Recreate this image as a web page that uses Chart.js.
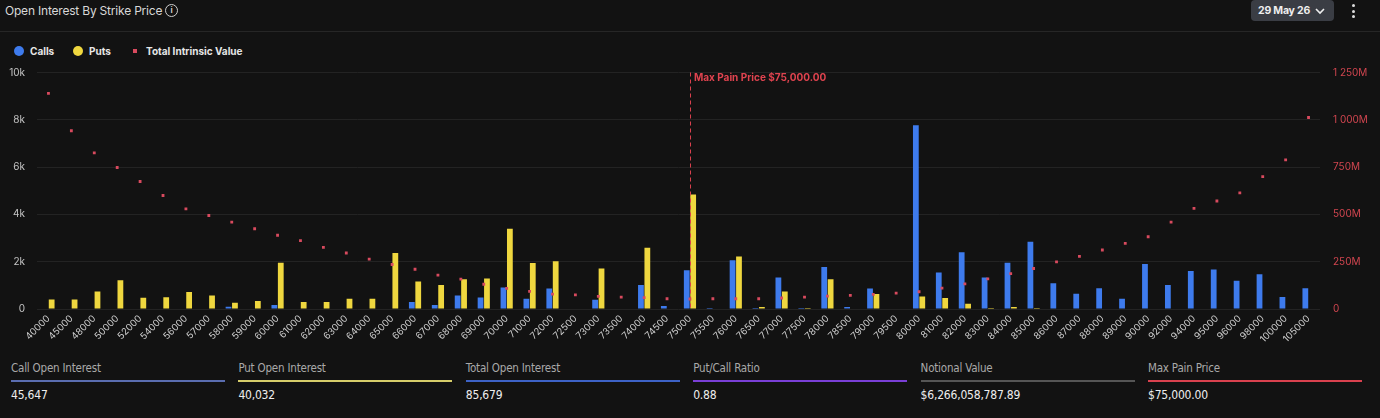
<!DOCTYPE html>
<html>
<head>
<meta charset="utf-8">
<script src="https://cdn.jsdelivr.net/npm/chart.js@4.4.1/dist/chart.umd.min.js"></script>
<style>
  html, body { margin:0; padding:0; background:#121212; width:1380px; height:418px; overflow:hidden; font-family: Inter, "Noto Sans", sans-serif; }
  #wrap { position:relative; width:1380px; height:418px; }
  .abs { position:absolute; }
  #title { left:5px; top:3px; font-size:12px; color:#d8d8d8; letter-spacing:-0.2px; }
  #info { left:165px; top:4px; width:11px; height:11px; border:1.3px solid #cfcfcf; border-radius:50%; font-size:8px; color:#cfcfcf; text-align:center; line-height:11px; font-weight:700; }
  #sep { left:0; top:31px; width:1380px; height:1px; background:#262626; }
  #date { left:1251px; top:0px; width:83px; height:21px; background:#3a3d44; border-radius:4px; color:#eee; font-size:10.5px; font-weight:700; line-height:21px; padding-left:7px; box-sizing:border-box; letter-spacing:-0.2px; }
  #date svg { position:absolute; right:9px; top:8px; }
  #kebab { left:1352px; top:4px; }
  .kebab-dot { width:3px; height:3px; background:#ddd; border-radius:50%; margin-bottom:2.5px; }
  .leg { top:44px; font-size:10px; font-weight:700; color:#e6e6e6; line-height:14px; }
  .dot { position:absolute; width:10px; height:10px; border-radius:50%; top:46px; }
  #chartbox { left:0; top:49px; width:1380px; height:301px; }
  .stat { top:361px; width:214px; }
  .stat .lab { font-family:"DejaVu Sans Condensed","DejaVu Sans",sans-serif; font-stretch:condensed; font-size:11.5px; color:#a9a9a9; height:15px; letter-spacing:-0.2px; }
  .stat .bar { height:2px; margin-top:4px; }
  .stat .val { font-family:"DejaVu Sans Condensed","DejaVu Sans",sans-serif; font-stretch:condensed; font-size:12px; color:#eeeeee; margin-top:6px; letter-spacing:-0.2px; }
</style>
</head>
<body>
<div id="wrap">
  <div id="title" class="abs">Open Interest By Strike Price</div>
  <div id="info" class="abs">i</div>
  <div id="sep" class="abs"></div>
  <div id="date" class="abs">29 May 26
    <svg width="10" height="7" viewBox="0 0 10 7"><path d="M1 1 L5 5 L9 1" stroke="#eee" stroke-width="1.6" fill="none"/></svg>
  </div>
  <div id="kebab" class="abs"><div class="kebab-dot"></div><div class="kebab-dot"></div><div class="kebab-dot"></div></div>

  <div class="dot" style="left:14px;background:#3e7bed;"></div>
  <div class="leg abs" style="left:30px;">Calls</div>
  <div class="dot" style="left:73px;background:#efd73f;"></div>
  <div class="leg abs" style="left:89px;">Puts</div>
  <div class="abs" style="left:133px;top:49px;width:4px;height:4px;background:#d84a5e;"></div>
  <div class="leg abs" style="left:146px;">Total Intrinsic Value</div>

  <div id="chartbox" class="abs"><canvas id="c"></canvas></div>

  <div id="stats"></div>
</div>
<script>
const strikes = ["40000","45000","48000","50000","52000","54000","56000","57000","58000","59000","60000","61000","62000","63000","64000","65000","66000","67000","68000","69000","70000","71000","72000","72500","73000","73500","74000","74500","75000","75500","76000","76500","77000","77500","78000","78500","79000","79500","80000","81000","82000","83000","84000","85000","86000","87000","88000","89000","90000","92000","94000","95000","96000","98000","100000","105000"];

const calls = [0,0,0,0,0,0,0,0,100,0,170,0,0,0,0,0,295,170,575,490,910,435,870,0,390,0,1010,125,1640,40,2060,40,1330,40,1780,85,870,0,7770,1540,2395,1330,1960,2845,1090,645,880,435,1905,1020,1610,1665,1190,1470,505,880];

const puts = [400,400,740,1220,475,500,715,575,265,335,1960,295,295,435,435,2365,1160,1010,1260,1290,3390,1950,2020,0,1710,0,2590,0,4845,0,2215,85,740,40,1260,0,630,0,530,460,225,40,85,40,0,0,0,0,0,0,0,0,0,0,0,0];

// Total intrinsic value, in millions of USD
const intrinsicM = [1140,942,825,748,674,600,529,494,459,424,390,361,326,296,264,235,210,179,158,131,109,93,79,75,67,63,60,54,53,54,54,54,58,63,68,72,77,84,91,110,133,159,187,214,249,278,312,347,382,459,532,571,614,700,788,1012];

const maxPainStrike = "75000";
const maxPainLabel = "Max Pain Price $75,000.00";

const statLabels = ["Call Open Interest","Put Open Interest","Total Open Interest","Put/Call Ratio","Notional Value","Max Pain Price"];
const statValues = ["45,647","40,032","85,679","0.88","$6,266,058,787.89","$75,000.00"];
const statColors = ["#5a6db0","#d6cd6a","#3d62c6","#7a3fd6","#555555","#d9414e"];

// stats row
const statsEl = document.getElementById('stats');
statLabels.forEach((l,i)=>{
  const d = document.createElement('div');
  d.className = 'stat abs';
  d.style.left = (11 + i*227.4) + 'px';
  d.innerHTML = '<div class="lab">'+l+'</div><div class="bar" style="background:'+statColors[i]+'"></div><div class="val">'+statValues[i]+'</div>';
  statsEl.appendChild(d);
});

const intrinsic = intrinsicM.map(v => v*1e6);

const maxPainPlugin = {
  id:'maxPain',
  afterDatasetsDraw(chart){
    const {ctx, chartArea, scales} = chart;
    const x = scales.x.getPixelForValue(strikes.indexOf(maxPainStrike));
    ctx.save();
    ctx.strokeStyle = '#d9414e';
    ctx.lineWidth = 1;
    ctx.setLineDash([4,3]);
    ctx.beginPath();
    ctx.moveTo(Math.round(x)+0.5, chartArea.top);
    ctx.lineTo(Math.round(x)+0.5, chartArea.bottom);
    ctx.stroke();
    ctx.setLineDash([]);
    ctx.fillStyle = '#e0434f';
    ctx.font = '700 10px Inter, "Noto Sans", sans-serif';
    ctx.textBaseline = 'middle';
    ctx.fillText(maxPainLabel, x + 4, chartArea.top + 5);
    ctx.restore();
  }
};

Chart.defaults.font.family = 'Inter, "Noto Sans", sans-serif';

new Chart(document.getElementById('c'), {
  data: {
    labels: strikes,
    datasets: [
      { type:'bar', label:'Calls', data:calls, backgroundColor:'#3e7bed', yAxisID:'y', categoryPercentage:0.56, barPercentage:0.9, order:2 },
      { type:'bar', label:'Puts', data:puts, backgroundColor:'#efd73f', yAxisID:'y', categoryPercentage:0.56, barPercentage:0.9, order:2 },
      { type:'line', label:'Total Intrinsic Value', data:intrinsic, yAxisID:'y1', showLine:false, pointStyle:'rect', pointRadius:2, pointHoverRadius:2, pointBackgroundColor:'#d84a5e', pointBorderWidth:0, borderColor:'#d84a5e', order:1 }
    ]
  },
  options: {
    responsive:true,
    maintainAspectRatio:false,
    animation:false,
    layout:{ padding:{ top:23.5, left:0, right:0, bottom:0 } },
    plugins:{ legend:{ display:false }, tooltip:{ enabled:false } },
    scales:{
      x:{
        grid:{ display:false, drawTicks:false },
        border:{ display:false },
        ticks:{ color:'#cfcfcf', font:{ size:9.5 }, maxRotation:45, minRotation:45, autoSkip:false, padding:4 },
        afterFit(s){ s.height = 41; }
      },
      y:{
        position:'left',
        min:0, max:10000,
        grid:{ color:'#232323', drawTicks:false },
        border:{ display:false },
        ticks:{ stepSize:2000, color:'#c4c4c4', font:{ size:10 }, padding:12,
          callback:v => v===0 ? '0' : (v/1000)+'k' },
        afterFit(s){ s.width = 37; }
      },
      y1:{
        position:'right',
        min:0, max:1250e6,
        grid:{ display:false, drawTicks:false },
        border:{ display:false },
        ticks:{ stepSize:250e6, color:'#d0454f', font:{ size:10 }, padding:13,
          callback:v => { const m = Math.round(v/1e6); if(m===0) return '0'; return m.toString().replace(/\B(?=(\d{3})+(?!\d))/g,' ')+'M'; } },
        afterFit(s){ s.width = 60; }
      }
    }
  },
  plugins:[maxPainPlugin]
});
</script>
</body>
</html>
